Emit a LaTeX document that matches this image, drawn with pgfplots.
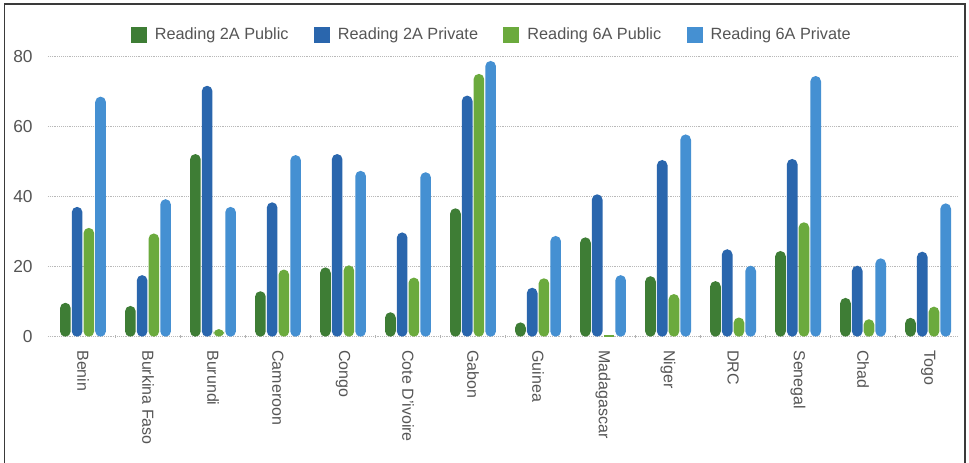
\documentclass[border=0pt]{standalone}
\usepackage{pgfplots}
\pgfplotsset{compat=1.18}
\usepackage{fontspec}
\setmainfont{Liberation Sans}

\definecolor{pubtwo}{HTML}{3E7D35}
\definecolor{privtwo}{HTML}{2A66AD}
\definecolor{pubsix}{HTML}{6BAA3D}
\definecolor{privsix}{HTML}{4590D2}
\definecolor{labelgray}{HTML}{555555}
\definecolor{framegray}{HTML}{3A3A3A}

\begin{document}
\begin{tikzpicture}
% page and frame
\useasboundingbox (0,0) rectangle (726.75pt,347.25pt);
\fill[white] (0,0) rectangle (726.75pt,347.25pt);
\draw[framegray, line width=1.2pt] (3.4pt,-2pt) -- (3.4pt,344.25pt) -- (723.6pt,344.25pt) -- (723.6pt,-2pt);

\begin{axis}[
  at={(36pt,94.7pt)}, anchor=south west,
  scale only axis, width=682.5pt, height=210pt,
  xmin=-0.538, xmax=13.46, ymin=0, ymax=80,
  clip=false,
  ybar, bar width=8pt,
  axis line style={draw=none},
  major tick length=0pt,
  ytick={0,20,40,60,80},
  ymajorgrids,
  major grid style={densely dotted, gray!55, line width=0.6pt},
  xtick={0,...,13},
  minor xtick={0.5,1.5,...,12.5},
  xtick pos=bottom, xtick align=center,
  minor tick length=2.2pt,
  minor tick style={gray!60, line width=0.5pt},
  xticklabels={Benin,Burkina Faso,Burundi,Cameroon,Congo,Cote D'ivoire,Gabon,Guinea,Madagascar,Niger,DRC,Senegal,Chad,Togo},
  xticklabel style={rotate=-90, anchor=west, inner xsep=10pt, font=\fontsize{12}{14}\selectfont, text=labelgray},
  yticklabel style={font=\fontsize{13}{15}\selectfont, text=labelgray, xshift=-8pt},
  /pgf/number format/assume math mode=true,
  legend columns=4,
  legend style={draw=none, fill=none, at={(0.488,1)}, anchor=center, yshift=16.3pt,
    font=\fontsize{12.2}{14}\selectfont, text=labelgray,
    /tikz/every odd column/.append style={column sep=4pt},
    /tikz/every even column/.append style={column sep=17pt}},
  legend image code/.code={\fill[#1, sharp corners] (0pt,-6pt) rectangle (12pt,6pt);},
  every axis plot/.append style={draw=none, rounded corners=4pt},
]
\addplot[fill=pubtwo, bar shift=-13.2pt] coordinates {
  (0,9.7) (1,8.8) (2,52.2) (3,13.0) (4,19.8) (5,7.0) (6,36.7)
  (7,4.1) (8,28.4) (9,17.3) (10,15.9) (11,24.5) (12,11.1) (13,5.4)};
\addplot[fill=privtwo, bar shift=-4.4pt] coordinates {
  (0,37.1) (1,17.6) (2,71.7) (3,38.4) (4,52.2) (5,29.8) (6,68.9)
  (7,14.0) (8,40.7) (9,50.5) (10,25.0) (11,50.8) (12,20.3) (13,24.3)};
\addplot[fill=pubsix, bar shift=4.4pt] coordinates {
  (0,31.1) (1,29.5) (2,2.2) (3,19.2) (4,20.4) (5,16.9) (6,75.1)
  (7,16.7) (9,12.2) (10,5.5) (11,32.7) (12,5.0) (13,8.6)};
\addplot[fill=privsix, bar shift=13.2pt] coordinates {
  (0,68.6) (1,39.3) (2,37.1) (3,51.9) (4,47.4) (5,47.0) (6,78.8)
  (7,28.8) (8,17.6) (9,57.8) (10,20.3) (11,74.5) (12,22.4) (13,38.1)};
% near-zero bar, too short for round ends
\addplot[fill=pubsix, bar shift=4.4pt, sharp corners, forget plot] coordinates {(8,0.5)};
\legend{Reading 2A Public, Reading 2A Private, Reading 6A Public, Reading 6A Private}
\end{axis}
\end{tikzpicture}
\end{document}
